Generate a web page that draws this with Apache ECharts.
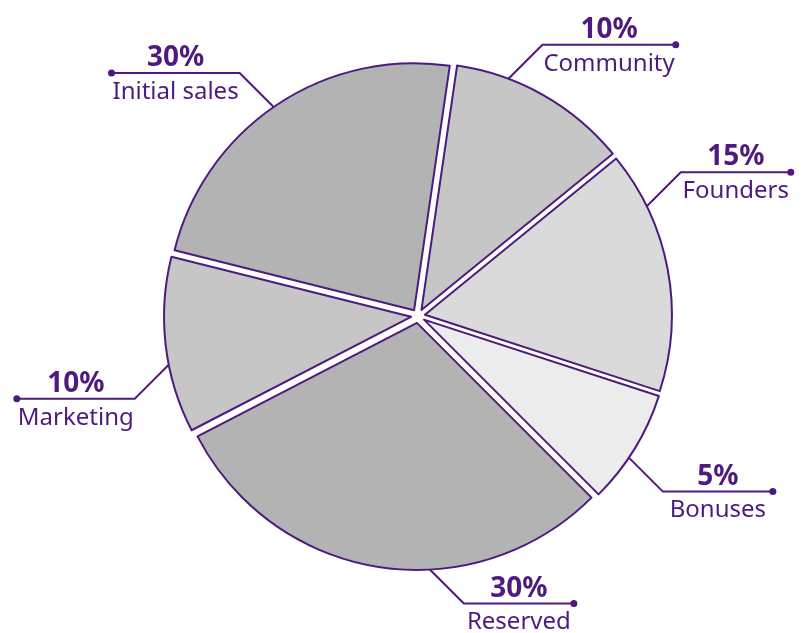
<!DOCTYPE html>
<html>
<head>
<meta charset="utf-8">
<script src="https://cdn.jsdelivr.net/npm/echarts@6/dist/echarts.min.js"></script>
<style>
  html, body { margin: 0; padding: 0; background: #fff; }
  #chart { width: 808px; height: 633px; }
</style>
</head>
<body>
<div id="chart"></div>
<script>
// token split pie, slices drawn clockwise from just right of 12 o'clock
const names = ['Community', 'Founders', 'Bonuses', 'Reserved', 'Marketing', 'Initial sales']
const values = [11.8, 15.9, 7.5, 29.9, 11.5, 23.4]
const shareLabels = ['10%', '15%', '5%', '30%', '10%', '30%']

const purple = '#4e1a7f'
const sliceColors = ['#c6c6c6', '#dadada', '#ececec', '#b3b3b3', '#c6c6c6', '#b3b3b3']
// how far round each slice (clockwise, 0..1) its guide line leaves the edge
const anchorFractions = [0.29, 0.23, 0.59, 0.39, 0.39, 0.49]
const cx = 418
const cy = 316
const radius = 247
const startAngle = 81.7
const offset = 7
const nameFont = 'normal 24px "Noto Sans"'
const shareFont = 'bold 28px "Noto Sans"'

const myChart = echarts.init(document.getElementById('chart'))

// text width, used to size the flat part of each guide line
const ctx = document.createElement('canvas').getContext('2d')
function textWidth(str, font) {
  ctx.font = font
  return ctx.measureText(str).width
}

// where the guide line leaves each slice (slices are pushed out by the select offset)
function anchorOf(i) {
  const total = values.reduce((a, b) => a + b, 0)
  let before = 0
  for (let k = 0; k < i; k++) before += values[k]
  const a0 = startAngle - before / total * 360
  const span = values[i] / total * 360
  const mid = (a0 - span / 2) * Math.PI / 180
  const t = (a0 - span * anchorFractions[i]) * Math.PI / 180
  return {
    x: cx + offset * Math.cos(mid) + radius * Math.cos(t),
    y: cy - offset * Math.sin(mid) - radius * Math.sin(t),
    sx: Math.cos(t) >= 0 ? 1 : -1,
    sy: Math.sin(t) >= 0 ? -1 : 1
  }
}

// guide line, end dot and the two text rows for every slice
function labelGraphics() {
  const items = []
  names.forEach((n, i) => {
    const a = anchorOf(i)
    const ex = a.x + a.sx * 34
    const ey = a.y + a.sy * 34
    const w = Math.max(textWidth(n, nameFont), textWidth(shareLabels[i], shareFont))
    const len = Math.max(w + 2, 110)
    const fx = ex + a.sx * len
    const tx = ex + a.sx * len / 2
    items.push({
      type: 'polyline',
      silent: true,
      shape: { points: [[a.x, a.y], [ex, ey], [fx, ey]] },
      style: { stroke: purple, lineWidth: 2, fill: null }
    })
    items.push({
      type: 'circle',
      silent: true,
      shape: { cx: fx, cy: ey, r: 3.5 },
      style: { fill: purple }
    })
    items.push({
      type: 'text',
      silent: true,
      style: {
        text: shareLabels[i], x: tx, y: ey - 15,
        font: shareFont, fill: purple, align: 'center', verticalAlign: 'middle'
      }
    })
    items.push({
      type: 'text',
      silent: true,
      style: {
        text: n, x: tx, y: ey + 19,
        font: nameFont, fill: purple, align: 'center', verticalAlign: 'middle'
      }
    })
  })
  return items
}

const option = {
  backgroundColor: '#fff',
  animation: false,
  graphic: labelGraphics(),
  series: [{
    type: 'pie',
    center: [cx, cy],
    radius: radius,
    startAngle: startAngle,
    clockwise: true,
    selectedMode: 'multiple',
    selectedOffset: offset,
    itemStyle: {
      borderColor: purple,
      borderWidth: 2
    },
    select: {
      itemStyle: {
        borderColor: purple,
        borderWidth: 2
      }
    },
    emphasis: { disabled: true },
    label: { show: false },
    labelLine: { show: false },
    data: names.map((n, i) => ({
      name: n,
      value: values[i],
      selected: true,
      itemStyle: { color: sliceColors[i] }
    }))
  }]
}

myChart.setOption(option)
</script>
</body>
</html>
